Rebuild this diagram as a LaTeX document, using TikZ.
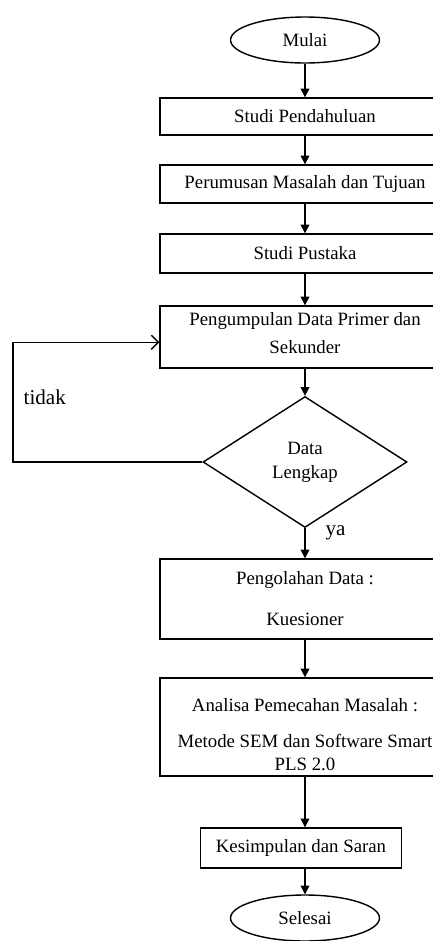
\documentclass[tikz,border=0pt]{standalone}
\usepackage{fontspec}
\setmainfont{Liberation Serif}
\usetikzlibrary{shapes.geometric,arrows.meta}

\begin{document}
\begin{tikzpicture}[x=0.02cm, y=-0.02cm, line width=0.8pt,
    font=\fontsize{10.7}{12.8}\selectfont,
    proses/.style={draw, rectangle, minimum width=5.8cm, align=center, inner sep=0pt},
    ujung/.style={draw, ellipse, minimum width=2.98cm, minimum height=0.92cm, inner sep=0pt},
    keputusan/.style={draw, diamond, minimum width=4.08cm, minimum height=2.62cm, inner sep=0pt, align=center},
    panah/.style={-{Triangle[length=5pt,width=5pt]}},
    balik/.style={-{Straight Barb[length=4pt,width=8pt]}},
    keterangan/.style={font=\fontsize{12}{14}\selectfont, inner sep=0pt}]
            \useasboundingbox (0,0) rectangle (433,941);
            \clip (0,0) rectangle (433,941);
            \node[ujung] (mulai) at (305,40) {Mulai};
            \node[proses, minimum height=0.74cm] (pendahuluan) at (305,116.5) {Studi Pendahuluan};
            \node[proses, minimum height=0.76cm] (perumusan) at (305,184) {Perumusan Masalah dan Tujuan};
            \node[proses, minimum height=0.78cm] (pustaka) at (305,253.5) {Studi Pustaka};
            \node[proses, minimum height=1.24cm] (pengumpulan) at (305,337) {Pengumpulan Data Primer dan\\[3pt] Sekunder\rule[-5pt]{0pt}{5pt}};
            \node[keputusan] (cek) at (305,462) {Data\\[1pt] Lengkap};
            \node[proses, minimum height=1.6cm] (pengolahan) at (305,599) {Pengolahan Data :\\[10.5pt] Kuesioner};
            \node[proses, minimum height=1.96cm] (analisa) at (305,727) {\rule{0pt}{16pt}Analisa Pemecahan Masalah :\\[8pt] Metode SEM dan Software Smart\\ PLS 2.0};
            \node[proses, minimum width=4.02cm, minimum height=0.8cm] (kesimpulan) at (301,848) {Kesimpulan dan Saran};
            \node[ujung] (selesai) at (305,918) {Selesai};
            \coordinate (kiri) at (13,462);
            \node[keterangan, anchor=west] (tidak) at (23,397) {tidak};
            \draw[panah] (mulai.south) -- (pendahuluan.north);
            \draw[panah] (pendahuluan.south) -- (perumusan.north);
            \draw[panah] (perumusan.south) -- (pustaka.north);
            \draw[panah] (pustaka.south) -- (pengumpulan.north);
            \draw[panah] (pengumpulan.south) -- (cek.north);
            \draw[panah] (cek.south) -- node[keterangan, pos=0.15, anchor=west, xshift=0.4cm] (ya) {ya} (pengolahan.north);
            \draw[panah] (pengolahan.south) -- (analisa.north);
            \draw[panah] (analisa.south) -- (kesimpulan.north -| analisa.south);
            \draw[panah] (kesimpulan.south -| selesai.north) -- (selesai.north);
            \draw[balik] (cek.west) -- (kiri) |- ([yshift=-3pt]pengumpulan.west);
        \end{tikzpicture}
\end{document}
